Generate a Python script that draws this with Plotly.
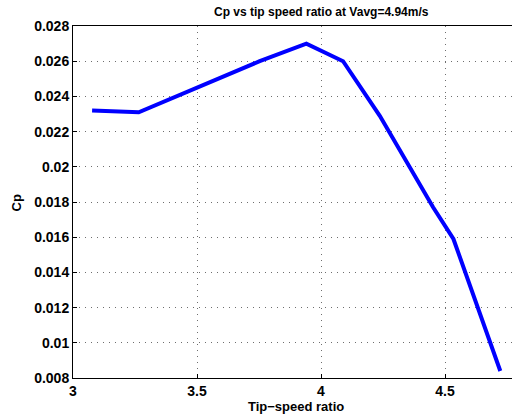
import plotly.graph_objects as go

# Tip-speed ratio and power coefficient measurements
tsr = [3.077, 3.265, 3.753, 3.941, 4.089, 4.237, 4.452, 4.534, 4.723]
cp = [0.0232, 0.0231, 0.0260, 0.0270, 0.0260, 0.0229, 0.0177, 0.0159, 0.0084]

x_ticks = [3, 3.5, 4, 4.5]
y_ticks = [0.008, 0.010, 0.012, 0.014, 0.016, 0.018, 0.020, 0.022, 0.024, 0.026, 0.028]
y_tick_text = ["0.008", "0.01", "0.012", "0.014", "0.016", "0.018", "0.02",
               "0.022", "0.024", "0.026", "0.028"]

W, H = 512, 418
L, T, B = 73, 26, 40
plot_w = W - L
plot_h = H - T - B
px_per_unit_x = 248.0

FONT = "Liberation Sans, Arial, sans-serif"


def px_x(p):
    return (p - L) / plot_w


def px_y(p):
    return (H - B - p) / plot_h


fig = go.Figure()
fig.add_trace(go.Scatter(
    x=tsr, y=cp, mode="lines",
    line=dict(color="#0000ff", width=4),
    showlegend=False,
))

axis_common = dict(
    showline=True, linecolor="black", linewidth=1,
    ticks="inside", ticklen=4, tickcolor="black",
    showgrid=True, gridcolor="#6e6e6e", griddash="1px,5px", gridwidth=1,
    zeroline=False,
    tickfont=dict(family=FONT, size=14, color="black", weight="bold"),
)

fig.update_xaxes(
    range=[3, 3 + plot_w / px_per_unit_x],
    tickvals=x_ticks, ticktext=[str(v) for v in x_ticks],
    mirror=True, **axis_common,
)
fig.update_yaxes(
    range=[0.008, 0.028],
    tickvals=y_ticks, ticktext=y_tick_text,
    mirror=False, **axis_common,
)

fig.add_annotation(
    text="Cp vs tip speed ratio at Vavg=4.94m/s",
    xref="paper", yref="paper", x=px_x(321.5), y=px_y(12),
    xanchor="center", yanchor="middle", showarrow=False,
    font=dict(family=FONT, size=12, color="black", weight="bold"),
)
fig.add_annotation(
    text="Tip\u2212speed ratio",
    xref="paper", yref="paper", x=px_x(296), y=px_y(406),
    xanchor="center", yanchor="middle", showarrow=False,
    font=dict(family=FONT, size=13, color="black", weight="bold"),
)
fig.add_annotation(
    text="Cp", textangle=-90,
    xref="paper", yref="paper", x=px_x(15.5), y=px_y(203),
    xanchor="center", yanchor="middle", showarrow=False,
    font=dict(family=FONT, size=13, color="black", weight="bold"),
)

fig.update_layout(
    width=W, height=H,
    margin=dict(l=L, r=0, t=T, b=B),
    paper_bgcolor="white", plot_bgcolor="white",
)

fig.write_html("out.html")
